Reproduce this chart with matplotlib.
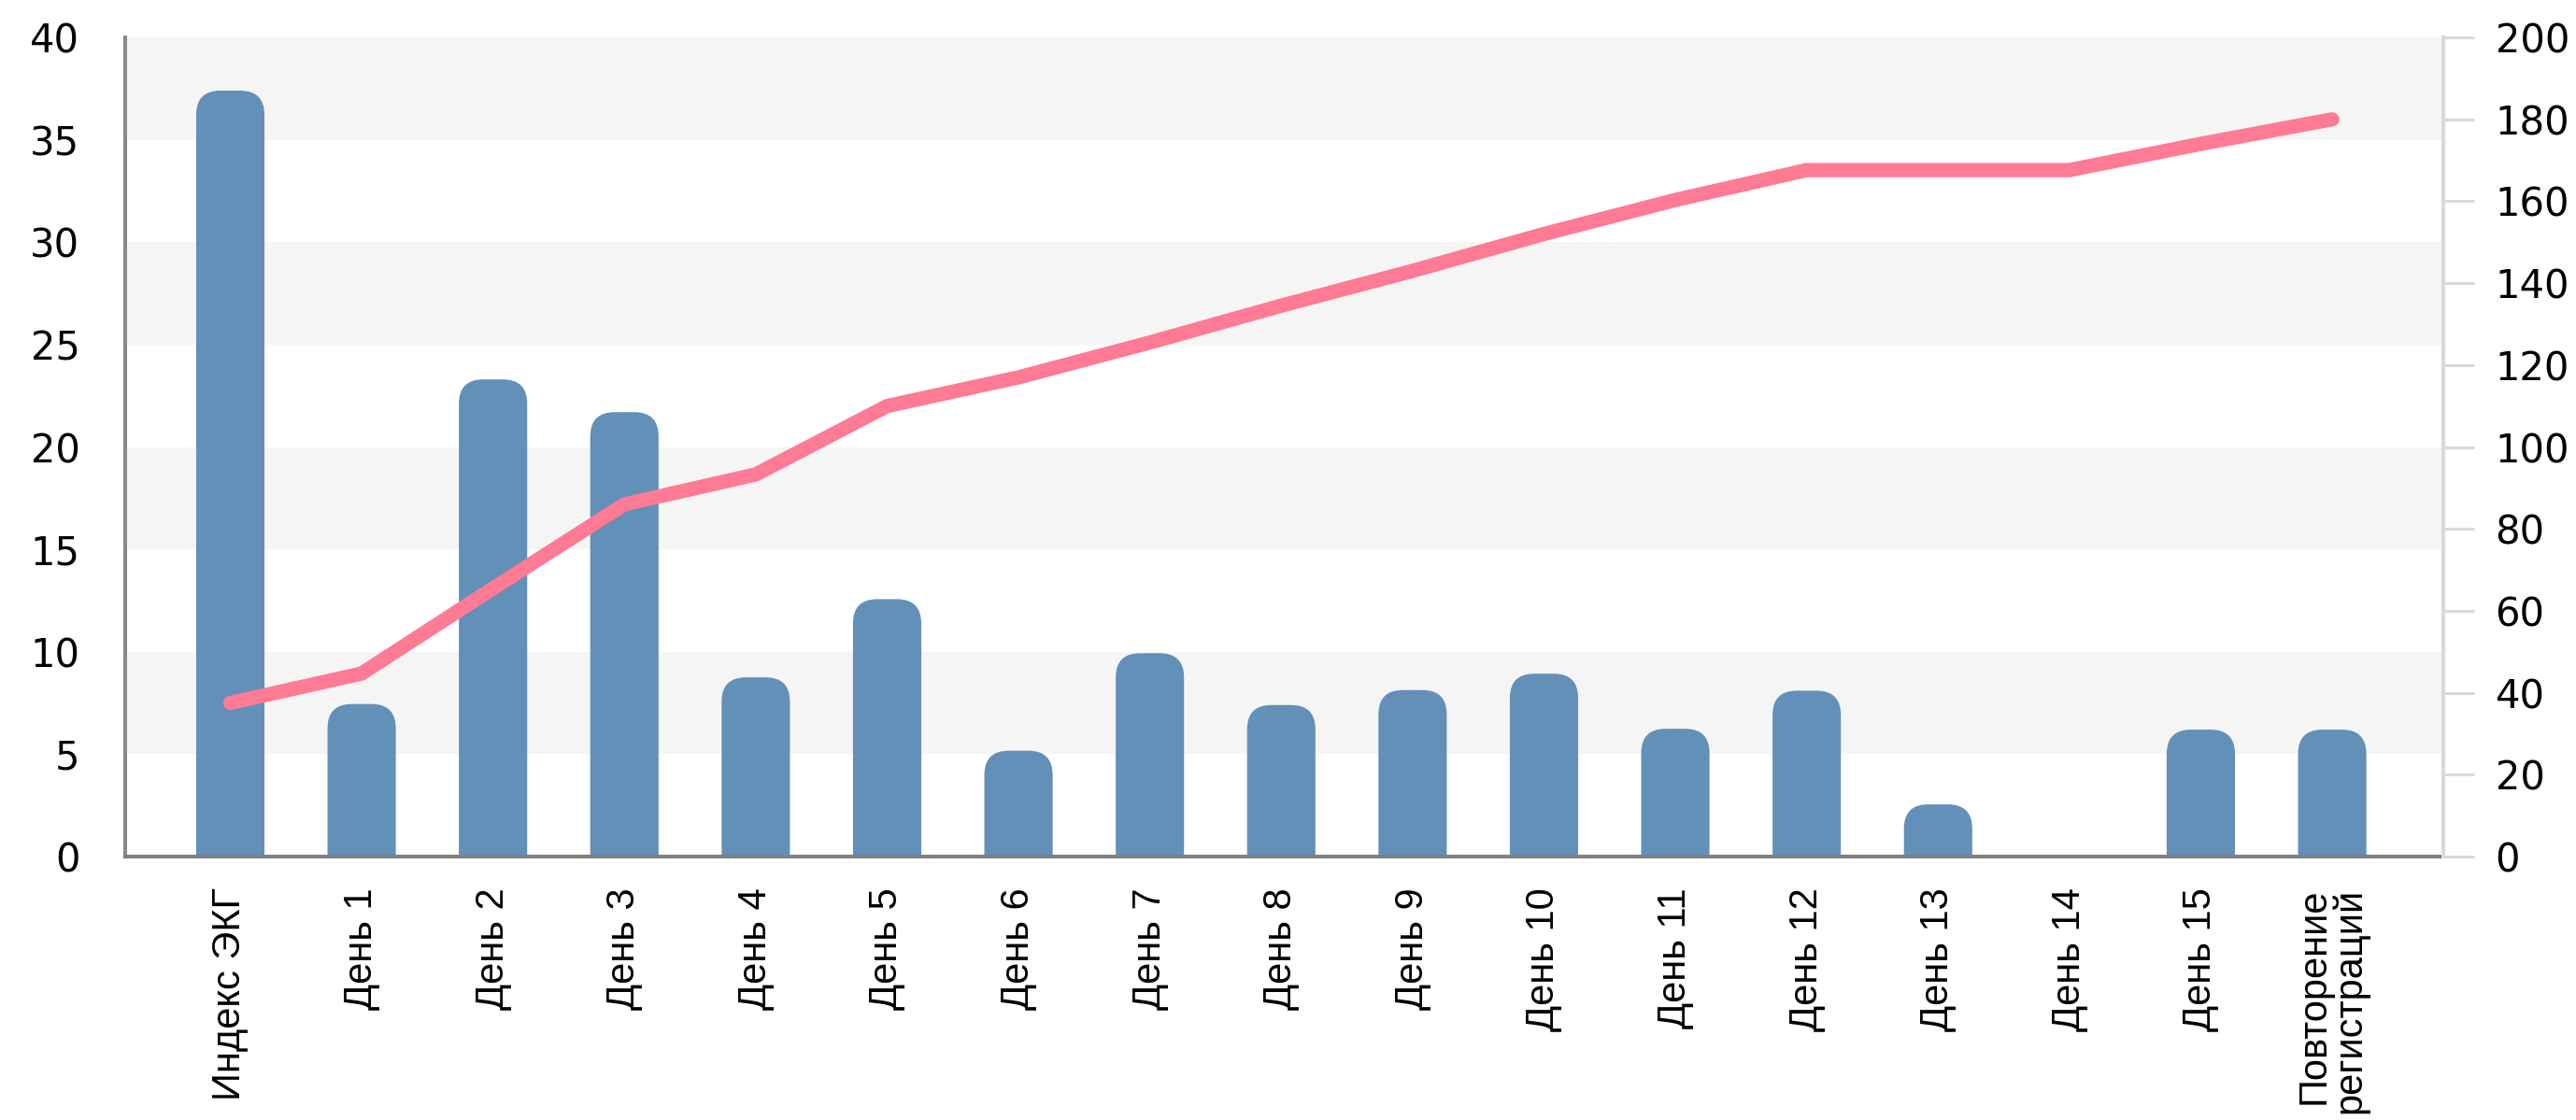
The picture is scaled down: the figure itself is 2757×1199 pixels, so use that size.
import matplotlib
matplotlib.use("Agg")
import matplotlib.pyplot as plt
from matplotlib.patches import FancyBboxPatch

# ---- data ----
categories = ["Индекс ЭКГ", "День 1", "День 2", "День 3", "День 4", "День 5",
              "День 6", "День 7", "День 8", "День 9", "День 10", "День 11",
              "День 12", "День 13", "День 14", "День 15",
              "Повторение\nрегистраций"]
bar_values = [37.4, 7.45, 23.3, 21.7, 8.75, 12.57, 5.17, 9.93, 7.4, 8.13,
              8.93, 6.24, 8.1, 2.55, 0.0, 6.2, 6.2]
line_values = [37.5, 44.7, 65.5, 86.0, 93.3, 110.0, 117.0, 125.5, 134.5, 143.0,
               152.0, 160.3, 167.6, 167.6, 167.6, 174.0, 180.0]
left_ticks = [0, 5, 10, 15, 20, 25, 30, 35, 40]
right_ticks = [0, 20, 40, 60, 80, 100, 120, 140, 160, 180, 200]

BAR_COLOR = "#6290b8"
LINE_COLOR = "#ff7a93"
BAND_COLOR = "#f5f5f5"

W, H = 2757, 1199
fig = plt.figure(figsize=(W / 100, H / 100), dpi=100)
ax_l, ax_r, ax_t, ax_b = 134, 2615, 40, 917
ax = fig.add_axes([ax_l / W, (H - ax_b) / H, (ax_r - ax_l) / W, (ax_b - ax_t) / H])

n = len(categories)
ax.set_xlim(-0.80, n - 1 + 0.846)
ax.set_ylim(0, 40)

# alternating bands
for lo in range(5, 40, 10):
    ax.axhspan(lo, lo + 5, color=BAND_COLOR, zorder=0, lw=0)

# rounded-top bars
bar_w = 0.52
px_per_x = (ax_r - ax_l) / (ax.get_xlim()[1] - ax.get_xlim()[0])
px_per_y = (ax_b - ax_t) / 40.0
radius_px = 26
rx = radius_px / px_per_x
aspect = px_per_x / px_per_y
for i, v in enumerate(bar_values):
    if v <= 0:
        continue
    y0 = -2.0
    p = FancyBboxPatch((i - bar_w / 2, y0), bar_w, v - y0,
                       boxstyle=f"round,pad=0,rounding_size={rx}",
                       mutation_aspect=aspect, facecolor=BAR_COLOR,
                       edgecolor="none", zorder=2)
    ax.add_patch(p)

# axes styling
for s in ["top", "right"]:
    ax.spines[s].set_visible(False)
ax.spines["left"].set_color("#888888")
ax.spines["left"].set_linewidth(2.9)
ax.spines["bottom"].set_color("#808080")
ax.spines["bottom"].set_linewidth(2.9)

ax.set_yticks(left_ticks)
ax.set_yticklabels([str(t) for t in left_ticks], fontsize=30,
                   fontfamily="DejaVu Sans")
ax.tick_params(axis="y", length=0, pad=35)

ax.set_xticks(range(n))
ax.set_xticklabels(categories, rotation=90, fontsize=30,
                   fontfamily="Liberation Sans", ha="center", va="top",
                   linespacing=0.95)
for lab in ax.get_xticklabels():
    lab.set_multialignment("right")
ax.tick_params(axis="x", length=0, pad=24)

# secondary axis with line
ax2 = ax.twinx()
ax2.set_ylim(0, 200)
ax2.set_xlim(ax.get_xlim())
for s in ["top", "left", "bottom"]:
    ax2.spines[s].set_visible(False)
ax2.spines["right"].set_color("#d9d9d9")
ax2.spines["right"].set_linewidth(2.9)
ax2.set_yticks(right_ticks)
ax2.set_yticklabels([str(t) for t in right_ticks], fontsize=30,
                    fontfamily="DejaVu Sans")
ax2.tick_params(axis="y", length=24, width=2.2, color="#d9d9d9", pad=16)

ax2.plot(range(n), line_values, color=LINE_COLOR, lw=11,
         solid_capstyle="round", solid_joinstyle="miter", zorder=3)

fig.savefig("out.png", dpi=100)
